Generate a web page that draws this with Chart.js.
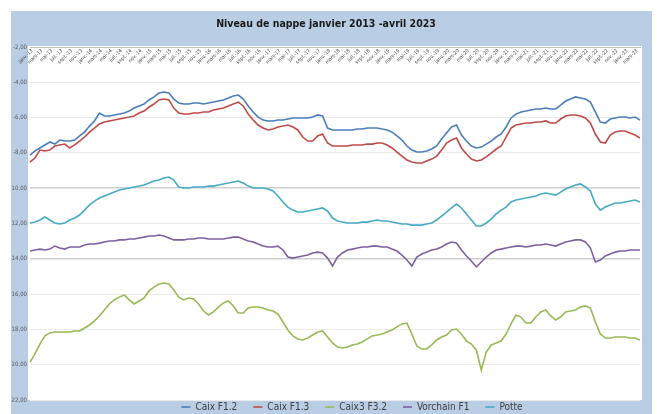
<!DOCTYPE html>
<html lang="fr">
<head>
<meta charset="utf-8">
<title>Niveau de nappe</title>
<script src="https://cdn.jsdelivr.net/npm/chart.js@4.4.1/dist/chart.umd.min.js"></script>
<style>
  html, body { margin: 0; padding: 0; background: #fff; }
  #cadre { width: 657px; height: 414px; }
</style>
</head>
<body>
<div id="cadre"><canvas id="graphique" width="657" height="414"></canvas></div>
<script>
// Donnees (profondeur de nappe en m, mensuel)
const titre = 'Niveau de nappe janvier 2013 -avril 2023';
const moisFr = ['janv.', 'févr.', 'mars', 'avr.', 'mai', 'juin', 'juil.', 'août', 'sept.', 'oct.', 'nov.', 'déc.'];
const annees = ['13', '14', '15', '16', '17', '18', '19', '20', '21', '22', '23'];
const nbMois = 124; // janvier 2013 -> avril 2023

const categories = [];
annees.forEach(a => moisFr.forEach(m => {
    if (categories.length < nbMois) categories.push(m + '-' + a);
}));

const caixF12 = [-8.12,-7.89,-7.72,-7.55,-7.38,-7.50,-7.27,-7.33,-7.33,-7.27,
    -7.04,-6.82,-6.48,-6.19,-5.74,-5.91,-5.91,-5.85,-5.80,-5.74,
    -5.63,-5.46,-5.34,-5.23,-5.00,-4.83,-4.61,-4.55,-4.61,-4.95,
    -5.17,-5.23,-5.23,-5.17,-5.17,-5.23,-5.17,-5.12,-5.06,-5.00,
    -4.89,-4.78,-4.72,-4.95,-5.34,-5.68,-5.97,-6.14,-6.19,-6.19,
    -6.14,-6.14,-6.08,-6.02,-6.02,-6.02,-6.02,-5.97,-5.85,-5.91,
    -6.59,-6.70,-6.70,-6.70,-6.70,-6.70,-6.65,-6.65,-6.59,-6.59,
    -6.59,-6.65,-6.70,-6.82,-7.04,-7.27,-7.61,-7.84,-7.95,-7.95,
    -7.89,-7.78,-7.61,-7.21,-6.87,-6.53,-6.42,-6.99,-7.33,-7.61,
    -7.72,-7.67,-7.50,-7.33,-7.10,-6.93,-6.53,-6.02,-5.80,-5.68,
    -5.63,-5.57,-5.51,-5.51,-5.46,-5.51,-5.51,-5.29,-5.06,-4.95,
    -4.83,-4.89,-4.95,-5.12,-5.68,-6.25,-6.31,-6.08,-6.02,-5.97,
    -5.97,-6.02,-5.97,-6.14];

const caixF13 = [-8.52,-8.29,-7.84,-7.89,-7.84,-7.61,-7.55,-7.50,-7.72,-7.55,
    -7.33,-7.10,-6.82,-6.59,-6.36,-6.25,-6.19,-6.14,-6.08,-6.02,
    -5.97,-5.91,-5.74,-5.63,-5.40,-5.23,-5.00,-4.95,-5.00,-5.46,
    -5.74,-5.80,-5.80,-5.74,-5.74,-5.68,-5.68,-5.57,-5.51,-5.46,
    -5.34,-5.23,-5.12,-5.34,-5.80,-6.14,-6.42,-6.59,-6.70,-6.65,
    -6.53,-6.48,-6.42,-6.53,-6.70,-7.10,-7.33,-7.33,-7.04,-6.93,
    -7.44,-7.61,-7.61,-7.61,-7.61,-7.55,-7.55,-7.55,-7.50,-7.50,
    -7.44,-7.44,-7.55,-7.72,-7.95,-8.18,-8.40,-8.52,-8.57,-8.57,
    -8.46,-8.35,-8.18,-7.84,-7.44,-7.27,-7.16,-7.72,-8.06,-8.35,
    -8.46,-8.40,-8.23,-8.01,-7.78,-7.61,-7.10,-6.59,-6.42,-6.36,
    -6.31,-6.31,-6.25,-6.25,-6.19,-6.31,-6.31,-6.08,-5.91,-5.85,
    -5.85,-5.91,-6.02,-6.31,-6.93,-7.38,-7.44,-6.99,-6.82,-6.76,
    -6.76,-6.87,-6.99,-7.16];

const caix3F32 = [-19.85,-19.39,-18.83,-18.37,-18.20,-18.15,-18.15,-18.15,-18.15,-18.09,
    -18.09,-17.92,-17.75,-17.52,-17.24,-16.90,-16.56,-16.33,-16.17,-16.05,
    -16.33,-16.56,-16.39,-16.22,-15.82,-15.60,-15.43,-15.37,-15.43,-15.77,
    -16.17,-16.33,-16.22,-16.28,-16.56,-16.96,-17.18,-17.01,-16.73,-16.50,
    -16.39,-16.67,-17.07,-17.07,-16.79,-16.73,-16.73,-16.79,-16.90,-16.96,
    -17.13,-17.58,-18.03,-18.37,-18.54,-18.60,-18.49,-18.32,-18.15,-18.09,
    -18.43,-18.77,-19.00,-19.05,-19.00,-18.88,-18.83,-18.71,-18.54,-18.37,
    -18.32,-18.26,-18.15,-18.03,-17.86,-17.69,-17.64,-18.26,-18.94,-19.11,
    -19.11,-18.88,-18.60,-18.43,-18.32,-18.03,-17.98,-18.26,-18.66,-18.83,
    -19.17,-20.30,-19.28,-18.88,-18.77,-18.66,-18.26,-17.69,-17.18,-17.30,
    -17.64,-17.64,-17.30,-17.01,-16.90,-17.24,-17.47,-17.30,-17.01,-16.96,
    -16.90,-16.73,-16.67,-16.79,-17.58,-18.26,-18.49,-18.49,-18.43,-18.43,
    -18.43,-18.49,-18.49,-18.60];

const vorchainF1 = [-13.56,-13.50,-13.45,-13.50,-13.45,-13.28,-13.39,-13.45,-13.33,-13.33,
    -13.33,-13.22,-13.16,-13.16,-13.11,-13.05,-12.99,-12.99,-12.93,-12.93,
    -12.88,-12.88,-12.82,-12.77,-12.71,-12.71,-12.65,-12.71,-12.82,-12.93,
    -12.93,-12.93,-12.88,-12.88,-12.82,-12.82,-12.88,-12.88,-12.88,-12.88,
    -12.82,-12.77,-12.77,-12.88,-12.99,-13.05,-13.16,-13.28,-13.33,-13.33,
    -13.28,-13.50,-13.90,-13.96,-13.90,-13.84,-13.79,-13.67,-13.62,-13.67,
    -13.96,-14.41,-13.90,-13.67,-13.50,-13.45,-13.39,-13.33,-13.33,-13.28,
    -13.28,-13.33,-13.33,-13.45,-13.56,-13.79,-14.07,-14.41,-13.90,-13.73,
    -13.62,-13.50,-13.45,-13.33,-13.16,-13.05,-13.11,-13.50,-13.84,-14.12,
    -14.46,-14.18,-13.90,-13.67,-13.50,-13.45,-13.39,-13.33,-13.28,-13.28,
    -13.33,-13.28,-13.22,-13.22,-13.16,-13.22,-13.28,-13.16,-13.05,-12.99,
    -12.93,-12.93,-13.05,-13.39,-14.18,-14.07,-13.84,-13.73,-13.62,-13.56,
    -13.56,-13.50,-13.50,-13.50];

const potte = [-11.97,-11.92,-11.80,-11.63,-11.80,-11.97,-12.03,-11.97,-11.80,-11.69,
    -11.52,-11.24,-10.95,-10.73,-10.56,-10.44,-10.33,-10.22,-10.10,-10.05,
    -9.99,-9.93,-9.88,-9.82,-9.71,-9.59,-9.54,-9.42,-9.37,-9.54,
    -9.93,-9.99,-9.99,-9.93,-9.93,-9.93,-9.88,-9.88,-9.82,-9.76,
    -9.71,-9.65,-9.59,-9.71,-9.88,-9.99,-9.99,-9.99,-10.05,-10.16,
    -10.44,-10.78,-11.07,-11.24,-11.35,-11.35,-11.29,-11.24,-11.18,-11.12,
    -11.29,-11.69,-11.86,-11.92,-11.97,-11.97,-11.97,-11.92,-11.92,-11.86,
    -11.80,-11.86,-11.86,-11.92,-11.97,-12.03,-12.03,-12.09,-12.09,-12.09,
    -12.03,-11.97,-11.80,-11.58,-11.35,-11.12,-10.90,-11.12,-11.46,-11.80,
    -12.14,-12.14,-11.97,-11.75,-11.46,-11.24,-11.07,-10.78,-10.67,-10.61,
    -10.56,-10.50,-10.44,-10.33,-10.27,-10.33,-10.39,-10.22,-10.05,-9.93,
    -9.82,-9.76,-9.93,-10.16,-10.90,-11.24,-11.07,-10.95,-10.84,-10.84,
    -10.78,-10.73,-10.67,-10.78];

const series = [
    { nom: 'Caix F1.2', valeurs: caixF12, couleur: '#4a7ebb' },
    { nom: 'Caix F1.3', valeurs: caixF13, couleur: '#be4b48' },
    { nom: 'Caix3 F3.2', valeurs: caix3F32, couleur: '#98b954' },
    { nom: 'Vorchain F1', valeurs: vorchainF1, couleur: '#7d60a0' },
    { nom: 'Potte', valeurs: potte, couleur: '#46aac5' }
];

// graduations dont le quadrillage ressort plus sur l'original
const lignesFortes = [-10, -14];

const POLICE = "'Liberation Sans Narrow', 'DejaVu Sans Condensed', 'Liberation Sans', sans-serif";
const LEG_PAD = 16;
const LEG_FONT = 10;

// fond bleu facon Excel + zone de traçage blanche
const fondExcel = {
    id: 'fondExcel',
    beforeDraw(chart) {
        const ctx = chart.ctx;
        const a = chart.chartArea;
        ctx.save();
        ctx.fillStyle = '#ffffff';
        ctx.fillRect(0, 0, chart.width, chart.height);
        ctx.fillStyle = '#b9cde5';
        ctx.fillRect(11, 11, 641, chart.height - 11);
        ctx.fillStyle = '#ffffff';
        ctx.fillRect(a.left - 2, a.top - 1, a.right - a.left + 4, a.bottom - a.top + 1);
        ctx.restore();
    }
};

// etiquettes de l'axe des dates, a 45 degres sous l'axe du haut
const etiquettesX = {
    id: 'etiquettesX',
    afterDraw(chart) {
        const ctx = chart.ctx;
        const sx = chart.scales.x;
        const haut = chart.chartArea.top;
        ctx.save();
        ctx.font = '5px ' + POLICE;
        ctx.fillStyle = '#404040';
        ctx.textAlign = 'right';
        ctx.textBaseline = 'middle';
        categories.forEach((lab, i) => {
            if (i % 2) return;
            ctx.save();
            ctx.translate(sx.getPixelForValue(i) + 2, haut + 3);
            ctx.rotate(-Math.PI / 4);
            ctx.fillText(lab, 0, 0);
            ctx.restore();
        });
        ctx.restore();
    }
};

// la legende garde 14px de haut, on deplace juste son dessin
const decalageLegende = {
    id: 'decalageLegende',
    afterLayout(chart) {
        const lg = chart.legend;
        lg.top = 407 - LEG_PAD - LEG_FONT / 2;
        lg.left += 26;
        lg.right += 26;
    }
};

const ctx = document.getElementById('graphique').getContext('2d');

new Chart(ctx, {
    type: 'line',
    data: {
        labels: categories,
        datasets: series.map(s => ({
            label: s.nom,
            data: s.valeurs,
            borderColor: s.couleur,
            backgroundColor: s.couleur,
            borderWidth: 1.6,
            pointRadius: 0,
            tension: 0,
            fill: false
        }))
    },
    options: {
        responsive: false,
        animation: false,
        devicePixelRatio: 1,
        layout: { padding: { left: 12, right: 17, top: 0, bottom: 0 } },
        plugins: {
            title: {
                display: true,
                text: titre,
                color: '#1a1a1a',
                font: { size: 10.5, weight: 'bold', family: POLICE },
                padding: { top: 18, bottom: 16.4 }
            },
            legend: {
                position: 'bottom',
                maxHeight: 14,
                labels: {
                    usePointStyle: true,
                    pointStyle: 'line',
                    pointStyleWidth: 9,
                    padding: LEG_PAD,
                    color: '#404040',
                    font: { size: LEG_FONT, family: POLICE }
                }
            },
            tooltip: { enabled: false }
        },
        scales: {
            x: {
                position: 'top',
                ticks: { display: false },
                grid: { display: false, drawTicks: false },
                border: { display: true, color: '#bfbfbf' }
            },
            y: {
                min: -22,
                max: -2,
                ticks: {
                    stepSize: 2,
                    padding: 3,
                    color: '#595959',
                    font: { size: 6, family: POLICE },
                    callback: v => v.toFixed(2).replace('.', ',')
                },
                grid: {
                    color: c => lignesFortes.includes(c.tick && c.tick.value) ? '#cfcfcf' : '#ebebeb',
                    lineWidth: c => lignesFortes.includes(c.tick && c.tick.value) ? 1.5 : 1,
                    drawTicks: false
                },
                border: { display: false },
                afterFit(s) { s.width = 18; }
            }
        }
    },
    plugins: [fondExcel, etiquettesX, decalageLegende]
});
</script>
</body>
</html>
